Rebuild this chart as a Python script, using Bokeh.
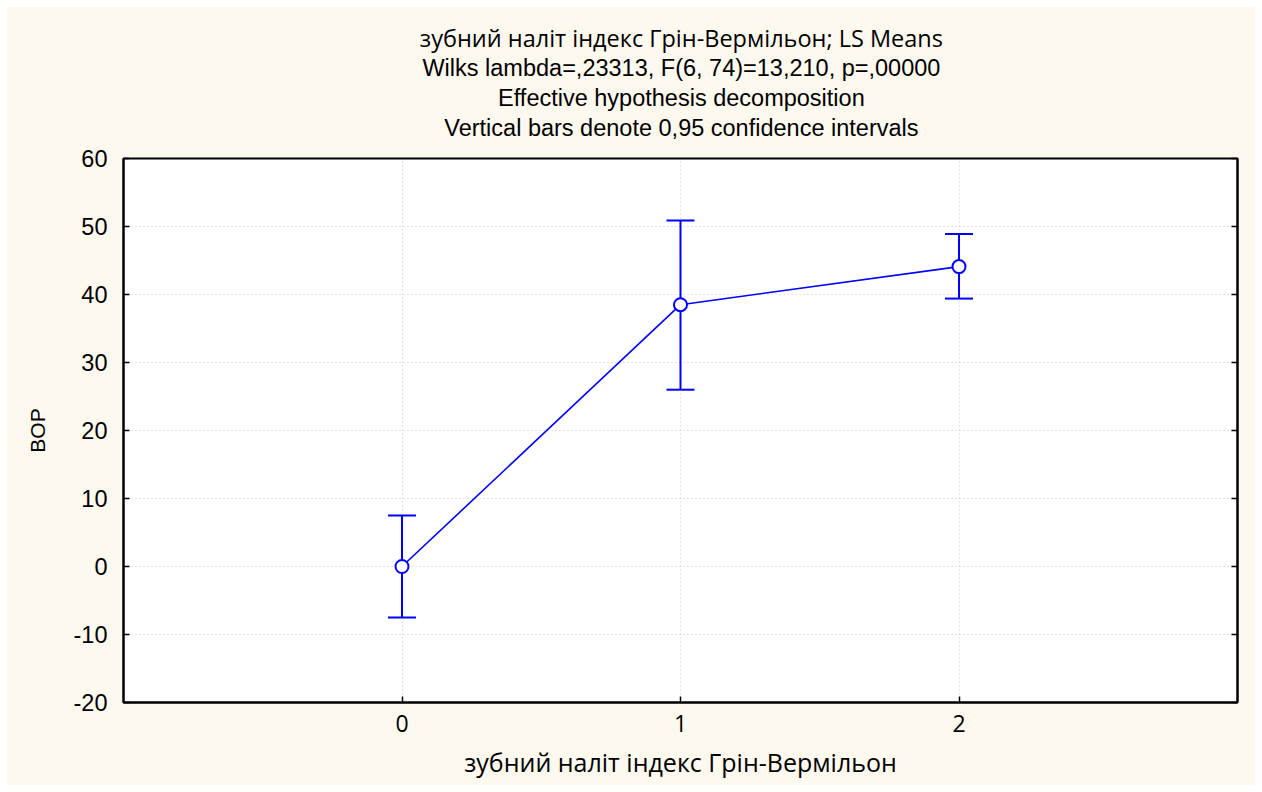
from bokeh.plotting import figure
from bokeh.layouts import column
from bokeh.models import (Range1d, LinearAxis, FixedTicker, Whisker, ColumnDataSource,
                          PrintfTickFormatter)
from bokeh.core.properties import value
from bokeh.embed import file_html
from bokeh.resources import INLINE

# data
groups = [0, 1, 2]
means = [0.0, 38.5, 44.1]
ci_low = [-7.5, 26.0, 39.4]
ci_high = [7.5, 50.9, 48.9]
y_ticks = [-20, -10, 0, 10, 20, 30, 40, 50, 60]
title_lines = [
    "зубний наліт індекс Грін-Вермільон; LS Means",
    "Wilks lambda=,23313, F(6, 74)=13,210, p=,00000",
    "Effective hypothesis decomposition",
    "Vertical bars denote 0,95 confidence intervals",
]
x_label = "зубний наліт індекс Грін-Вермільон"
y_label = "BOP"

BLUE = "#0000FF"
CREAM = "#FDF9EF"
ARIAL = "Liberation Sans"
CAL = "Open Sans"

# ---- title strip (its own small canvas, spans the full width) ----
TW, TH = 1248, 137
tf = figure(width=TW, height=TH, x_range=Range1d(0, TW), y_range=Range1d(0, TH),
            output_backend="svg", toolbar_location=None, min_border=0,
            background_fill_color=CREAM, border_fill_color=CREAM)
tf.axis.visible = False
tf.grid.visible = False
tf.outline_line_color = None
title_x = [625] * 4
title_y = [106.5, 76.5, 46.5, 17.0]
title_fonts = [CAL, ARIAL, ARIAL, ARIAL]
title_sizes = ["23.5px", "23.5px", "23.5px", "23.5px"]
for t, xx, yy, f, s in zip(title_lines, title_x, title_y, title_fonts, title_sizes):
    tf.text(x=[xx], y=[yy], text=[t], text_align="center", text_baseline="middle",
            text_font=value(f), text_font_size=s, text_color="black")

# ---- main plot ----
p = figure(width=1248, height=641,
           x_range=Range1d(-1, 3), y_range=Range1d(-20, 60),
           output_backend="svg", toolbar_location=None,
           min_border_left=116, min_border_right=18, min_border_top=14, min_border_bottom=83,
           background_fill_color="white", border_fill_color=CREAM)
p.outline_line_color = "black"
p.outline_line_width = 2

p.xaxis.ticker = FixedTicker(ticks=groups)
p.yaxis.ticker = FixedTicker(ticks=y_ticks)
p.yaxis.formatter = PrintfTickFormatter(format="%d")
for ax in (p.xaxis[0], p.yaxis[0]):
    ax.major_tick_in = 6
    ax.major_tick_out = 0
    ax.minor_tick_line_color = None
    ax.axis_line_color = "black"
    ax.axis_line_width = 2
    ax.major_tick_line_color = "black"
    ax.major_tick_line_width = 1.5
    ax.major_label_text_color = "black"
    ax.axis_label_text_color = "black"
    ax.axis_label_text_font_style = "normal"

p.yaxis.major_label_text_font = ARIAL
p.yaxis.major_label_text_font_size = "23.5px"
p.yaxis.axis_label = y_label
p.yaxis.axis_label_text_font = ARIAL
p.yaxis.axis_label_text_font_size = "21px"
p.yaxis.axis_label_standoff = 22
p.yaxis.major_label_standoff = 16

p.xaxis.major_label_text_font = CAL
p.xaxis.major_label_text_font_size = "23px"
p.xaxis.axis_label = x_label
p.xaxis.axis_label_text_font = CAL
p.xaxis.axis_label_text_font_size = "25px"
p.xaxis.major_label_standoff = 12
p.xaxis.axis_label_standoff = 10

rax = LinearAxis(ticker=FixedTicker(ticks=y_ticks),
                 major_label_overrides={t: "" for t in y_ticks},
                 major_tick_in=6, major_tick_out=0, minor_tick_line_color=None,
                 axis_line_width=2, major_tick_line_width=1.5)
p.add_layout(rax, "right")

p.xgrid.grid_line_color = "#C8C8C8"
p.xgrid.grid_line_dash = "1 3"
p.ygrid.grid_line_color = "#C8C8C8"
p.ygrid.grid_line_dash = "1 3"

src = ColumnDataSource(dict(x=groups, y=means, lo=ci_low, hi=ci_high))
w = Whisker(source=src, base="x", lower="lo", upper="hi", line_color=BLUE, line_width=2)
for h in (w.upper_head, w.lower_head):
    h.line_color = BLUE
    h.size = 28
    h.line_width = 2
p.add_layout(w)

p.line("x", "y", source=src, line_color=BLUE, line_width=1.6)
p.scatter("x", "y", source=src, size=13, fill_color="white", line_color=BLUE, line_width=2)

layout = column(tf, p, spacing=0, margin=(7, 7, 7, 7),
                styles={"background-color": CREAM})
open("out.html", "w").write(file_html(layout, INLINE))
